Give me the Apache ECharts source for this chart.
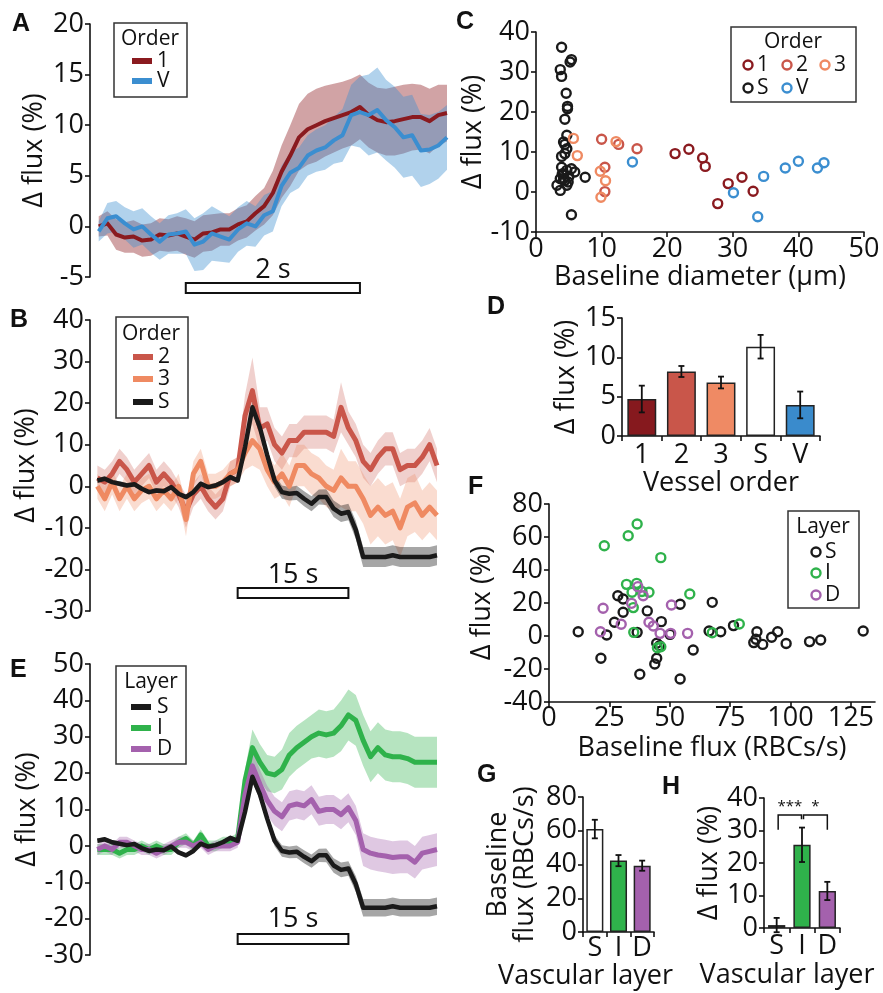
<!DOCTYPE html>
<html>
<head>
<meta charset="utf-8">
<script src="https://cdn.jsdelivr.net/npm/echarts@6.0.0/dist/echarts.min.js"></script>
<style>
  html, body { margin: 0; padding: 0; background: #fff; }
  #chart { width: 883px; height: 993px; }
</style>
</head>
<body>
<div id="chart"></div>
<script>
// ---- panel A: order 1 vs V, sampled every 0.1 s from -1 s
const a1Mean = [0, 0.3, -0.8, -1.1, -1.0, -1.4, -1.3, -0.8, -0.9, -0.7, -1.0, -1.3, -0.7, -0.6, -0.3, -0.3, 0.2, 0.5, 1.3, 2.0, 3.3, 5.4, 7.0, 8.8, 9.6, 10.0, 10.4, 10.7, 11.0, 11.3, 11.8, 11.0, 10.5, 10.3, 10.4, 10.6, 10.8, 10.8, 10.4, 11.0, 11.2]
const a1Sem = [1.0, 1.2, 1.5, 1.5, 1.6, 1.6, 1.6, 1.6, 1.6, 1.7, 1.8, 1.8, 1.8, 1.8, 1.6, 1.6, 1.6, 1.6, 1.7, 1.8, 2.2, 2.6, 3.0, 3.3, 3.5, 3.6, 3.5, 3.4, 3.3, 3.3, 3.2, 3.2, 3.2, 3.3, 3.4, 3.4, 3.3, 3.2, 3.2, 3.0, 2.8]
const aVMean = [-0.5, 0.8, 1.0, 0.3, -0.3, 0.0, -0.8, -1.5, -0.8, -0.7, -0.5, -1.8, -1.5, -0.7, -1.0, -1.3, -0.3, 0.3, 0.0, 1.1, 1.5, 4.0, 5.3, 5.8, 7.0, 7.5, 7.8, 8.5, 9.0, 11.0, 11.3, 11.0, 11.5, 10.5, 9.8, 8.8, 9.0, 7.5, 7.6, 8.0, 8.8]
const aVSem = [1.0, 1.5, 1.5, 1.6, 1.8, 1.8, 1.8, 1.8, 1.9, 2.0, 2.2, 2.6, 2.8, 2.7, 2.5, 2.3, 2.2, 2.2, 2.0, 2.0, 2.0, 2.0, 2.0, 2.0, 2.0, 2.1, 2.2, 2.3, 2.6, 3.0, 3.5, 4.0, 4.2, 4.0, 4.0, 4.0, 4.0, 3.6, 3.4, 3.3, 3.2]
const stimA = [0, 2]

// ---- panels B and E: sampled every 1 s from -19 s
const sMean = [1.4, 1.8, 1.0, 0.6, 0.2, 0.5, -0.6, -1.4, -1.0, -1.2, -0.2, -1.8, -2.6, -1.4, 0.6, -0.2, 0.2, 1.0, 2.2, 1.4, 9.4, 19.0, 14.2, 7.5, 1.4, -1.4, -1.8, -1.6, -3.0, -4.2, -2.6, -2.6, -5.4, -6.6, -6.2, -10.5, -17.0, -17.0, -17.0, -17.0, -16.6, -17.0, -17.0, -17.0, -17.0, -17.0, -16.6]
const sSem = [0.6, 0.6, 0.6, 0.6, 0.6, 0.6, 0.6, 0.6, 0.6, 0.6, 0.6, 0.6, 0.6, 0.6, 0.6, 0.6, 0.6, 0.6, 0.6, 0.6, 1.0, 1.5, 1.5, 1.5, 1.5, 1.6, 1.6, 1.7, 1.8, 1.8, 1.8, 1.9, 2.0, 2.0, 2.0, 2.2, 2.4, 2.4, 2.4, 2.4, 2.4, 2.4, 2.4, 2.4, 2.4, 2.4, 2.4]
const o2Mean = [2, 1, 3, 6, 4, 1, 3, 5, 1, 3, 1, -2, -6, -2, 0, -3, -5, -3, 3, 4, 17, 23, 14, 15, 10, 8, 11, 11, 13, 13, 13, 13, 12, 19, 14, 11, 6, 4, 7, 9, 9, 4, 5, 5, 7, 10, 5]
const o2Sem = [3, 3, 3, 3, 3, 3, 3, 3, 3, 3, 3, 3, 4, 3, 3, 3, 3, 3, 3, 3, 5, 8, 5, 4, 4, 4, 4, 4, 4, 4, 4, 4, 4, 6, 4, 4, 4, 4, 4, 4, 4, 4, 4, 4, 4, 4, 4]
const o3Mean = [0, -3, 1, -3, 0, -3, -1, 0, -3, -1, -3, 0, -8, 3, 6, 0, 0, 1, 3, 4, 8, 11, 9, 4, 1, 3, 0, 5, 5, 3, 2, 0, -1, 2, 0, 0, -3, -7, -5, -7, -6, -10, -5, -4, -7, -5, -7]
const o3Sem = [3, 3, 3, 3, 3, 3, 3, 3, 3, 3, 3, 3, 4, 3, 3, 3, 3, 3, 3, 3, 4, 6, 5, 4, 4, 5, 5, 5, 5, 5, 5, 5, 5, 7, 6, 6, 6, 7, 7, 7, 7, 7, 7, 7, 6, 6, 6]
const iMean = [-1, -1, -1, -2, -1, -1, 0, -1, 0, -1, -1, 1, 2, 0, 3, 0, 0, 1, 1, 2, 18, 27, 23, 20, 19.5, 21, 25, 27, 28.5, 30, 31, 30.5, 31, 33, 36, 34.5, 29, 24.5, 27, 25, 24.5, 24.5, 24, 23, 23, 23, 23]
const iSem = [1.5, 1.5, 1.5, 1.5, 1.5, 1.5, 1.5, 1.5, 1.5, 1.5, 1.5, 1.5, 1.5, 1.5, 1.5, 1.5, 1.5, 1.5, 1.5, 1.5, 3, 5, 5, 5, 5, 5.5, 6, 6, 6, 6, 6.5, 6.5, 6.5, 7, 7, 7, 7, 7, 7, 7, 7, 7, 7, 7, 7, 7, 7]
const dMean = [-1, 0, -1, 1, 1, 0, -1, -1, -2, -1, 0, 1, 1, 0, 1, -1, 0, 0, 0, 1, 14, 22, 17, 12.5, 9.5, 8, 11, 11.5, 11, 12.7, 9.5, 10, 10, 8.6, 10.5, 7, -1, -2, -2.5, -2.8, -3.2, -3, -3, -4.5, -2, -1.5, -1]
const dSem = [1.5, 1.5, 1.5, 1.5, 1.5, 1.5, 1.5, 1.5, 1.5, 1.5, 1.5, 1.5, 1.5, 1.5, 1.5, 1.5, 1.5, 1.5, 1.5, 1.5, 3, 4, 4, 4, 4, 4, 4, 4, 4, 4, 4, 4, 4, 4, 4, 4, 4.5, 4.5, 4.5, 4.5, 4.5, 4.5, 4.5, 4.5, 4.5, 4.5, 4.5]
const stimB = [0, 15]

// ---- panel C: baseline diameter (um) vs delta flux (%)
const cOrder1 = [[21.2, 9.6], [23.3, 10.7], [25.4, 8.5], [25.8, 6.4], [27.7, -2.9], [29.3, 2.1], [31.4, 3.7], [33.1, 0.2]]
const cOrder2 = [[10.0, 13.2], [12.6, 11.9], [15.4, 10.8], [10.5, 6.2], [10.5, 0.1]]
const cOrder3 = [[5.7, 13.4], [6.3, 9.1], [12.2, 12.6], [9.8, 5.2], [10.6, 2.8], [9.9, -1.3]]
const cOrderS = [[3.9, 36.2], [3.7, 30.6], [3.9, 28.9], [5.2, 32.5], [5.4, 33.1], [4.6, 24.7], [4.8, 21.4], [4.8, 20.8], [4.4, 18.2], [4.7, 14.2], [4.2, 12.5], [4.4, 11.9], [4.7, 10.8], [3.9, 8.9], [4.4, 9.6], [3.9, 6.2], [4.7, 5.4], [4.2, 4.6], [5.4, 5.8], [5.9, 5.0], [7.5, 3.7], [3.7, 3.3], [4.4, 2.9], [4.9, 2.5], [3.2, 1.7], [3.7, 0.4], [4.7, 1.7], [5.4, -5.7], [4.2, 3.3], [4.0, 4.5], [5.0, 3.8]]
const cOrderV = [[14.7, 7.5], [30.1, -0.2], [33.8, -6.2], [34.7, 3.9], [38.0, 6.0], [40.0, 7.7], [42.9, 6.0], [43.9, 7.3]]

// ---- panel D: mean delta flux by vessel order
const dCats = ['1', '2', '3', 'S', 'V']
const dBarMean = [4.7, 8.2, 6.8, 11.35, 3.95]
const dBarErr = [1.7, 0.7, 0.75, 1.5, 1.7]

// ---- panel F: baseline flux (RBCs/s) vs delta flux (%)
const fLayerS = [[12.1, 2.6], [23.9, 0.6], [21.5, -13.5], [28.5, 24.4], [30.7, 22.4], [30.7, 14.4], [27.1, 8.3], [36.5, 2.2], [37.6, -23.2], [40.7, 15.2], [46.5, 8.7], [44.6, -4.4], [44.6, -13.5], [43.8, -17], [54.3, 19.2], [50.1, 1.0], [54.3, -26.1], [59.7, -8.5], [67.6, 20.4], [66.3, 3.0], [71.1, 2.6], [76.4, 6.3], [86.1, 2.6], [85.7, -2.0], [84.8, -4.0], [88.5, -5.1], [92.2, -0.8], [94.7, 2.6], [98.2, -4.5], [107.9, -3.4], [112.5, -2.4], [130.1, 3.0], [45.8, -5.9]]
const fLayerI = [[36.5, 67.9], [32.8, 60.8], [22.9, 54.7], [46.3, 47.5], [32.1, 31.3], [36.3, 31.9], [34.4, 26.5], [41.4, 26.5], [58.3, 25.5], [34.9, 17.2], [35.1, 2.2], [44.9, -7.1], [46.3, -6.5], [67.6, 2.0], [78.8, 7.3], [38.5, 27.0]]
const fLayerD = [[36.8, 29.9], [39.0, 24.4], [34.2, 19.8], [22.4, 16.8], [50.7, 18.8], [29.9, 7.1], [21.3, 2.6], [41.4, 8.3], [43.2, 6.1], [46.0, 1.6], [50.4, 1.6], [57.4, 1.6]]
const fTicks = [0, 25, 50, 75, 100, 125]

// ---- panels G and H: by vascular layer
const layerCats = ['S', 'I', 'D']
const gBarMean = [61, 42.3, 39.3]
const gBarErr = [5.5, 3.3, 3.0]
const hBarMean = [0.9, 25.6, 11.4]
const hBarErr = [2.2, 5.3, 2.8]
const hSig = [[0, 1, '***'], [1, 2, '*']]

const FONT = '"Open Sans", sans-serif'
const INK = '#111'
const C1 = '#8a1a1f', C2 = '#c9564a', C3 = '#ef8a62', CV = '#3b8ed0', CS = '#1a1a1a'
const CI = '#2fb24b', CD = '#a461ad'

const tA = a1Mean.map((_, i) => -1 + i * 0.1)
const tB = sMean.map((_, i) => -19 + i)

const grids = [
  { left: 90, top: 24, width: 357, height: 253 },   // A
  { left: 90, top: 320, width: 347, height: 291 },  // B
  { left: 90, top: 664, width: 347, height: 291 },  // E
  { left: 536, top: 32, width: 328, height: 200 },  // C
  { left: 622, top: 318, width: 198, height: 118 }, // D
  { left: 549, top: 504, width: 326, height: 198 }, // F
  { left: 583, top: 797, width: 71, height: 135 },  // G
  { left: 764, top: 798, width: 76, height: 130 }   // H
]

const axisLine = { show: true, onZero: false, lineStyle: { color: INK, width: 1.6 } }
const axisTick = { show: true, length: 5, lineStyle: { color: INK, width: 1.6 } }

const valY = (gi, min, max, interval, name, gap) => ({
  type: 'value', gridIndex: gi, min, max, interval,
  name, nameLocation: 'middle', nameGap: gap,
  nameTextStyle: { fontFamily: FONT, fontSize: 27, color: INK, lineHeight: 27 },
  axisLine, axisTick,
  axisLabel: { fontFamily: FONT, fontSize: 27, color: INK, margin: 6 },
  splitLine: { show: false }
})

const valX = (gi, min, max, interval, name, gap, margin) => ({
  type: 'value', gridIndex: gi, min, max, interval,
  name, nameLocation: 'middle', nameGap: gap,
  nameTextStyle: { fontFamily: FONT, fontSize: 27, color: INK },
  axisLine, axisTick,
  axisLabel: { fontFamily: FONT, fontSize: 27, color: INK, margin },
  splitLine: { show: false }
})

const catX = (gi, cats, name, gap, margin, shift) => ({
  type: 'category', gridIndex: gi, data: cats,
  name, nameLocation: 'middle', nameGap: gap,
  nameTextStyle: { fontFamily: FONT, fontSize: 27, color: INK, padding: [0, 2 * (shift || 0), 0, 0] },
  axisLine, axisTick: { ...axisTick, alignWithLabel: false },
  axisLabel: { fontFamily: FONT, fontSize: 27, color: INK, margin, interval: 0 },
  splitLine: { show: false }
})

const hiddenX = (gi, min, max) => ({ type: 'value', gridIndex: gi, min, max, show: false })

const fAxis = valX(5, 0, 135, 25, 'Baseline flux (RBCs/s)', 33, 3)
fAxis.axisLabel.customValues = fTicks
fAxis.axisTick = { ...axisTick, customValues: fTicks }

const xAxes = [
  hiddenX(0, -1.1, 3),
  hiddenX(1, -20, 27),
  hiddenX(2, -20, 27),
  valX(3, 0, 50, 10, 'Baseline diameter (µm)', 30, 4),
  catX(4, dCats, 'Vessel order', 27, 6),
  fAxis,
  catX(6, layerCats, 'Vascular layer', 30, 3, 33),
  catX(7, layerCats, 'Vascular layer', 34, 5, 15)
]

const yAxes = [
  valY(0, -5, 20, 5, 'Δ flux (%)', 42),
  valY(1, -30, 40, 10, 'Δ flux (%)', 50),
  valY(2, -30, 50, 10, 'Δ flux (%)', 48),
  valY(3, -10, 40, 10, 'Δ flux (%)', 46),
  valY(4, 0, 15, 5, 'Δ flux (%)', 42),
  valY(5, -40, 80, 20, 'Δ flux (%)', 53),
  valY(6, 0, 80, 20, 'Baseline\nflux (RBCs/s)', 44),
  valY(7, 0, 40, 10, 'Δ flux (%)', 41)
]

// shaded mean +/- sem band drawn as one polygon
function band(ai, ts, mean, sem, fill, z) {
  return {
    type: 'custom', xAxisIndex: ai, yAxisIndex: ai, silent: true, z, clip: false,
    data: [[ts[0], mean[0]]],
    renderItem: (params, api) => {
      const up = ts.map((t, i) => api.coord([t, mean[i] + sem[i]]))
      const lo = ts.map((t, i) => api.coord([t, mean[i] - sem[i]])).reverse()
      return { type: 'polygon', shape: { points: up.concat(lo) }, style: { fill } }
    }
  }
}

function trace(ai, ts, mean, color, width, z) {
  return {
    type: 'line', xAxisIndex: ai, yAxisIndex: ai, silent: true, z,
    data: ts.map((t, i) => [t, mean[i]]),
    symbol: 'none', lineStyle: { color, width, join: 'round' }
  }
}

// stimulus bar with its duration label, placed relative to the grid bottom
function stim(ai, range, label, barOffset, textOffset) {
  return {
    type: 'custom', xAxisIndex: ai, yAxisIndex: ai, silent: true, clip: false, z: 5,
    data: [[range[0], 0, range[1]]],
    encode: { x: [0, 2], y: 1 },
    renderItem: (params, api) => {
      const cs = params.coordSys
      const x0 = api.coord([api.value(0), 0])[0]
      const x1 = api.coord([api.value(2), 0])[0]
      const yb = cs.y + cs.height + barOffset
      return {
        type: 'group', children: [
          { type: 'rect', shape: { x: x0, y: yb, width: x1 - x0, height: 10 }, style: { fill: '#fff', stroke: INK, lineWidth: 2 } },
          { type: 'text', x: (x0 + x1) / 2, y: yb - textOffset,
            style: { text: label, fill: INK, fontSize: 27, fontFamily: FONT, align: 'center', verticalAlign: 'middle', textAlign: 'center', textVerticalAlign: 'middle' } }
        ]
      }
    }
  }
}

function dots(ai, pts, color) {
  return {
    type: 'scatter', xAxisIndex: ai, yAxisIndex: ai, silent: true, data: pts,
    symbol: 'circle', symbolSize: 9,
    itemStyle: { color: 'rgba(0,0,0,0)', borderColor: color, borderWidth: 2.4, opacity: 1 }
  }
}

function bars(ai, means, colors, width) {
  return {
    type: 'bar', xAxisIndex: ai, yAxisIndex: ai, silent: true, barWidth: width,
    data: means.map((v, i) => ({ value: v, itemStyle: { color: colors[i] } })),
    itemStyle: { borderColor: '#222', borderWidth: 1.5 }
  }
}

function errBars(ai, means, errs) {
  return {
    type: 'custom', xAxisIndex: ai, yAxisIndex: ai, silent: true, z: 10,
    data: means.map((m, i) => [i, m - errs[i], m + errs[i]]),
    encode: { x: 0, y: [1, 2] },
    renderItem: (params, api) => {
      const top = api.coord([api.value(0), api.value(2)])
      const bot = api.coord([api.value(0), api.value(1)])
      const st = { stroke: INK, lineWidth: 1.8 }
      return {
        type: 'group', children: [
          { type: 'line', shape: { x1: top[0], y1: top[1], x2: bot[0], y2: bot[1] }, style: st },
          { type: 'line', shape: { x1: top[0] - 3, y1: top[1], x2: top[0] + 3, y2: top[1] }, style: st },
          { type: 'line', shape: { x1: bot[0] - 3, y1: bot[1], x2: bot[0] + 3, y2: bot[1] }, style: st }
        ]
      }
    }
  }
}

// significance brackets in H
function sigBrackets(ai) {
  return {
    type: 'custom', xAxisIndex: ai, yAxisIndex: ai, silent: true, z: 10, clip: false,
    data: hSig.map(s => [s[0], 35, s[1]]),
    encode: { x: [0, 2], y: 1 },
    renderItem: (params, api) => {
      const k = params.dataIndex
      const a = api.coord([hSig[k][0], 34.8])
      const b = api.coord([hSig[k][1], 34.8])
      const lowA = api.coord([0, k === 0 ? 30.2 : 33.5])[1]
      const lowB = api.coord([0, k === 0 ? 33.5 : 30.2])[1]
      const xa = a[0] + 1.5
      const xb = b[0] - (k === 0 ? 0.5 : 0)
      return {
        type: 'group', children: [
          { type: 'polyline', shape: { points: [[xa, lowA], [xa, a[1]], [xb, a[1]], [xb, lowB]] }, style: { stroke: INK, lineWidth: 1.5, fill: null } },
          { type: 'text', x: (xa + xb) / 2, y: a[1] - 8,
            style: { text: hSig[k][2], fill: INK, fontSize: 15, fontFamily: FONT, align: 'center', verticalAlign: 'middle', textAlign: 'center', textVerticalAlign: 'middle' } }
        ]
      }
    }
  }
}

const series = [
  // A
  band(0, tA, a1Mean, a1Sem, 'rgba(139,26,31,0.40)', 1),
  band(0, tA, aVMean, aVSem, 'rgba(59,142,208,0.40)', 1),
  trace(0, tA, a1Mean, C1, 4, 3),
  trace(0, tA, aVMean, CV, 4, 4),
  stim(0, stimA, '2 s', 6, 13),
  // B
  band(1, tB, o2Mean, o2Sem, 'rgba(201,86,74,0.28)', 1),
  band(1, tB, o3Mean, o3Sem, 'rgba(239,138,98,0.30)', 1),
  band(1, tB, sMean, sSem, 'rgba(0,0,0,0.35)', 1),
  trace(1, tB, o2Mean, C2, 5, 3),
  trace(1, tB, o3Mean, C3, 5, 3),
  trace(1, tB, sMean, CS, 4.5, 4),
  stim(1, stimB, '15 s', -23, 13),
  // E
  band(2, tB, iMean, iSem, 'rgba(47,178,75,0.35)', 1),
  band(2, tB, dMean, dSem, 'rgba(164,97,173,0.35)', 1),
  band(2, tB, sMean, sSem, 'rgba(0,0,0,0.35)', 1),
  trace(2, tB, iMean, CI, 5, 3),
  trace(2, tB, dMean, CD, 5, 3),
  trace(2, tB, sMean, CS, 4.5, 4),
  stim(2, stimB, '15 s', -21, 15),
  // C
  dots(3, cOrderS, CS),
  dots(3, cOrder1, C1),
  dots(3, cOrder2, C2),
  dots(3, cOrder3, C3),
  dots(3, cOrderV, CV),
  // D
  bars(4, dBarMean, ['#86191e', C2, '#ef8a64', '#ffffff', '#3a8bcc'], '73%'),
  errBars(4, dBarMean, dBarErr),
  // F
  dots(5, fLayerS, CS),
  dots(5, fLayerI, CI),
  dots(5, fLayerD, CD),
  // G
  bars(6, gBarMean, ['#ffffff', CI, CD], '72%'),
  errBars(6, gBarMean, gBarErr),
  // H
  bars(7, hBarMean, ['#ffffff', CI, CD], '68%'),
  errBars(7, hBarMean, hBarErr),
  sigBrackets(7)
]

// ---- static text: panel letters and legends
const txt = (x, y, s, size, align, weight, family) => ({
  type: 'text', x, y, silent: true, z: 100,
  style: {
    text: s, fill: INK, fontSize: size, fontFamily: family || FONT, fontWeight: weight || 'normal',
    align: align || 'left', verticalAlign: 'middle', textAlign: align || 'left', textVerticalAlign: 'middle'
  }
})
const box = (x, y, w, h) => ({ type: 'rect', silent: true, z: 99, shape: { x, y, width: w, height: h }, style: { fill: '#fff', stroke: '#333', lineWidth: 1.5 } })
const swatch = (x, y, color) => ({ type: 'line', silent: true, z: 100, shape: { x1: x, y1: y, x2: x + 20, y2: y }, style: { stroke: color, lineWidth: 6 } })
const ring = (x, y, color) => ({ type: 'circle', silent: true, z: 100, shape: { cx: x, cy: y, r: 4.5 }, style: { fill: 'none', stroke: color, lineWidth: 2.4 } })

const letters = [['A', 12, 24], ['B', 10, 320], ['C', 456, 22], ['D', 487, 307], ['E', 10, 670], ['F', 468, 487], ['G', 477, 775], ['H', 662, 787]]

const graphics = letters.map(l => txt(l[1], l[2], l[0], 25, 'left', 'bold', '"Liberation Sans", Arial, sans-serif'))
graphics.push(
  // A legend
  box(114, 23, 73, 74), txt(150, 39, 'Order', 21, 'center'),
  swatch(132, 61, C1), txt(157, 61, '1', 21),
  swatch(132, 81, CV), txt(157, 81, 'V', 21),
  // B legend
  box(116, 317, 72, 101), txt(151, 334, 'Order', 21, 'center'),
  swatch(133, 357, C2), txt(158, 357, '2', 21),
  swatch(133, 379, C3), txt(158, 379, '3', 21),
  swatch(133, 402, CS), txt(158, 402, 'S', 21),
  // E legend
  box(116, 666, 70, 98), txt(151, 682, 'Layer', 21, 'center'),
  swatch(131, 707, CS), txt(157, 707, 'S', 21),
  swatch(131, 728, CI), txt(157, 728, 'I', 21),
  swatch(131, 749, CD), txt(157, 749, 'D', 21),
  // C legend
  box(731, 27, 125, 75), txt(793, 42, 'Order', 21, 'center'),
  ring(748, 65, C1), txt(757, 65, '1', 21),
  ring(787, 65, C2), txt(796, 65, '2', 21),
  ring(825, 65, C3), txt(834, 65, '3', 21),
  ring(748, 88, CS), txt(757, 88, 'S', 21),
  ring(787, 88, CV), txt(796, 88, 'V', 21),
  // F legend
  box(788, 511, 71, 97), txt(823, 527, 'Layer', 21, 'center'),
  ring(816, 552, CS), txt(825, 552, 'S', 21),
  ring(816, 573, CI), txt(825, 573, 'I', 21),
  ring(816, 595, CD), txt(825, 595, 'D', 21)
)

const chart = echarts.init(document.getElementById('chart'), null, { renderer: 'canvas' })
chart.setOption({
  backgroundColor: '#fff',
  animation: false,
  grid: grids,
  xAxis: xAxes,
  yAxis: yAxes,
  series,
  graphic: { elements: graphics }
})
</script>
</body>
</html>
